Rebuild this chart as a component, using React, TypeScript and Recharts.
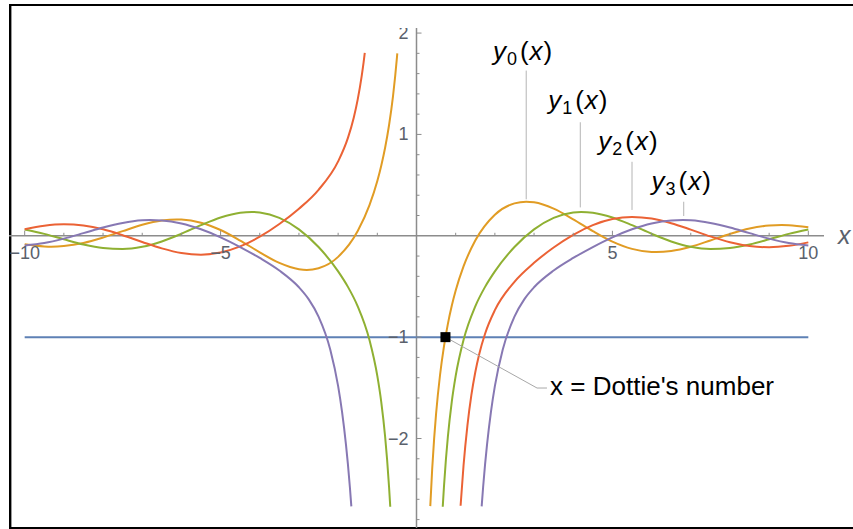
import React from "react"
import {
  ComposedChart, Line, Scatter, XAxis, YAxis, ReferenceLine, ReferenceDot,
} from "recharts"

// spherical Bessel functions of the second kind
const BLUE_X = [-10, 10]
const BLUE_Y = [-1, -1]

const Y0_LEFT_X = [-10, -9.5, -9.32, -9, -8.5, -8, -7.5, -7, -6.5, -6.12, -6, -5.5, -5, -4.5, -4, -3.5, -3, -2.8, -2.5, -2, -1.5, -1.2, -1, -0.9, -0.8, -0.7, -0.6, -0.5, -0.49]
const Y0_LEFT_Y = [-0.084, -0.105, -0.107, -0.101, -0.071, -0.018, 0.046, 0.108, 0.150, 0.161, 0.160, 0.129, 0.057, -0.047, -0.163, -0.268, -0.330, -0.337, -0.320, -0.208, 0.047, 0.302, 0.540, 0.691, 0.871, 1.093, 1.376, 1.755, 1.80]
const Y0_RIGHT_X = [0.352, 0.4, 0.45, 0.5, 0.6, 0.7, 0.8, 0.9, 1, 1.2, 1.5, 2, 2.5, 2.8, 3, 3.5, 4, 4.5, 5, 5.5, 6, 6.12, 6.5, 7, 7.5, 8, 8.5, 9, 9.32, 9.5, 10]
const Y0_RIGHT_Y = [-2.667, -2.303, -2.001, -1.755, -1.376, -1.093, -0.871, -0.691, -0.540, -0.302, -0.047, 0.208, 0.320, 0.337, 0.330, 0.268, 0.163, 0.047, -0.057, -0.129, -0.160, -0.161, -0.150, -0.108, -0.046, 0.018, 0.071, 0.101, 0.107, 0.105, 0.084]

const Y1_LEFT_X = [-10, -9.5, -9, -8.5, -8, -7.5, -7, -6.5, -6, -5.5, -5, -4.5, -4.2, -4, -3.5, -3, -2.5, -2, -1.75, -1.5, -1.2, -1, -0.9, -0.8, -0.75, -0.7, -0.67]
const Y1_LEFT_Y = [0.063, 0.019, -0.035, -0.086, -0.121, -0.131, -0.109, -0.056, 0.020, 0.105, 0.181, 0.228, 0.235, 0.230, 0.177, 0.063, -0.111, -0.351, -0.504, -0.696, -1.028, -1.382, -1.638, -1.985, -2.210, -2.481, -2.673]
const Y1_RIGHT_X = [0.67, 0.7, 0.75, 0.8, 0.9, 1, 1.2, 1.5, 1.75, 2, 2.5, 3, 3.5, 4, 4.2, 4.5, 5, 5.5, 6, 6.5, 7, 7.5, 8, 8.5, 9, 9.5, 10]
const Y1_RIGHT_Y = [-2.673, -2.481, -2.210, -1.985, -1.638, -1.382, -1.028, -0.696, -0.504, -0.351, -0.111, 0.063, 0.177, 0.230, 0.235, 0.228, 0.181, 0.105, 0.020, -0.056, -0.109, -0.131, -0.121, -0.086, -0.035, 0.019, 0.063]

const Y2_LEFT_X = [-10, -9.5, -9, -8.5, -8, -7.5, -7, -6.5, -6, -5.5, -5, -4.5, -4, -3.5, -3, -2.5, -2, -1.75, -1.6, -1.5, -1.4, -1.35, -1.32]
const Y2_LEFT_Y = [0.065, 0.099, 0.113, 0.101, 0.064, 0.006, -0.061, -0.124, -0.170, -0.186, -0.165, -0.105, -0.009, 0.116, 0.267, 0.454, 0.734, 0.966, 1.168, 1.346, 1.573, 1.711, 1.805]
const Y2_RIGHT_X = [1.125, 1.2, 1.3, 1.4, 1.5, 1.6, 1.75, 2, 2.5, 3, 3.5, 4, 4.5, 5, 5.5, 6, 6.5, 7, 7.5, 8, 8.5, 9, 9.5, 10]
const Y2_RIGHT_Y = [-2.664, -2.269, -1.870, -1.573, -1.346, -1.168, -0.966, -0.734, -0.454, -0.267, -0.116, 0.009, 0.105, 0.165, 0.186, 0.170, 0.124, 0.061, -0.006, -0.064, -0.101, -0.113, -0.099, -0.065]

const Y3_LEFT_X = [-10, -9.5, -9, -8.5, -8, -7.5, -7, -6.8, -6.5, -6, -5.5, -5, -4.5, -4, -3.5, -3, -2.75, -2.5, -2.2, -2, -1.9, -1.8, -1.75, -1.7, -1.663]
const Y3_LEFT_Y = [-0.095, -0.071, -0.028, 0.026, 0.082, 0.127, 0.153, 0.156, 0.152, 0.122, 0.064, -0.015, -0.111, -0.219, -0.343, -0.508, -0.627, -0.797, -1.124, -1.484, -1.737, -2.060, -2.256, -2.481, -2.67]
const Y3_RIGHT_X = [1.663, 1.7, 1.75, 1.8, 1.9, 2, 2.2, 2.5, 2.75, 3, 3.5, 4, 4.5, 5, 5.5, 6, 6.5, 6.8, 7, 7.5, 8, 8.5, 9, 9.5, 10]
const Y3_RIGHT_Y = [-2.67, -2.481, -2.256, -2.060, -1.737, -1.484, -1.124, -0.797, -0.627, -0.508, -0.343, -0.219, -0.111, -0.015, 0.064, 0.122, 0.152, 0.156, 0.153, 0.127, 0.082, 0.026, -0.028, -0.071, -0.095]

const DOTTIE = 0.739

const X_MAJOR = [-10, -5, 5, 10]
const X_MAJOR_LABELS = ["\u221210", "\u22125", "5", "10"]
const X_MINOR = [-9, -8, -7, -6, -4, -3, -2, -1, 1, 2, 3, 4, 6, 7, 8, 9]
const Y_MAJOR = [-2, -1, 1, 2]
const Y_MAJOR_LABELS = ["\u22122", "\u22121", "1", "2"]
const Y_MINOR = [-2.8, -2.6, -2.4, -2.2, -1.8, -1.6, -1.4, -1.2, -0.8, -0.6, -0.4, -0.2, 0.2, 0.4, 0.6, 0.8, 1.2, 1.4, 1.6, 1.8]

const COLORS = ["#5E81B5", "#E19C24", "#8FB032", "#EB6235", "#8778B3"]
const FONT = "'Liberation Sans', Arial, sans-serif"
const TICK_COLOR = "#5a616c"
const AXIS_COLOR = "#8c8c8c"

const pts = (xs: number[], ys: number[]) => xs.map((x, i) => ({ x, y: ys[i] }))

const xMajorData = X_MAJOR.map((x, i) => ({ x, y: 0, label: X_MAJOR_LABELS[i] }))
const xMinorData = X_MINOR.map((x) => ({ x, y: 0 }))
const yMajorData = Y_MAJOR.map((y, i) => ({ x: 0, y, label: Y_MAJOR_LABELS[i] }))
const yMinorData = Y_MINOR.map((y) => ({ x: 0, y }))

const SERIES = [
  { key: "blue", color: COLORS[0], data: pts(BLUE_X, BLUE_Y) },
  { key: "y0l", color: COLORS[1], data: pts(Y0_LEFT_X, Y0_LEFT_Y) },
  { key: "y0r", color: COLORS[1], data: pts(Y0_RIGHT_X, Y0_RIGHT_Y) },
  { key: "y1l", color: COLORS[2], data: pts(Y1_LEFT_X, Y1_LEFT_Y) },
  { key: "y1r", color: COLORS[2], data: pts(Y1_RIGHT_X, Y1_RIGHT_Y) },
  { key: "y2l", color: COLORS[3], data: pts(Y2_LEFT_X, Y2_LEFT_Y) },
  { key: "y2r", color: COLORS[3], data: pts(Y2_RIGHT_X, Y2_RIGHT_Y) },
  { key: "y3l", color: COLORS[4], data: pts(Y3_LEFT_X, Y3_LEFT_Y) },
  { key: "y3r", color: COLORS[4], data: pts(Y3_RIGHT_X, Y3_RIGHT_Y) },
]

// label anchor (left, baseline) and leader line for each curve
const LABELS = [
  { n: "0", at: { x: 1.95, y: 1.73 }, lead: [{ x: 2.8, y: 1.63 }, { x: 2.8, y: 0.36 }] },
  { n: "1", at: { x: 3.36, y: 1.25 }, lead: [{ x: 4.18, y: 1.12 }, { x: 4.18, y: 0.28 }] },
  { n: "2", at: { x: 4.64, y: 0.85 }, lead: [{ x: 5.5, y: 0.73 }, { x: 5.5, y: 0.255 }] },
  { n: "3", at: { x: 6.0, y: 0.447 }, lead: [{ x: 6.82, y: 0.336 }, { x: 6.82, y: 0.195 }] },
]

function CurveLabel({ cx, cy, n }: { cx: number; cy: number; n: string }) {
  return (
    <text x={cx} y={cy} fontFamily={FONT} fontSize={26} fill="#000">
      <tspan fontStyle="italic">y</tspan>
      <tspan fontSize={18} dy={5} dx={1}>{n}</tspan>
      <tspan dy={-5} dx={3}>(</tspan>
      <tspan fontStyle="italic" dx={1}>x</tspan>
      <tspan dx={1}>)</tspan>
    </text>
  )
}

export default function App() {
  return (
    <div style={{ position: "absolute", left: 0, top: 0, width: 853, height: 529, background: "#fff", overflow: "hidden" }}>
      <div
        style={{
          position: "absolute", left: 9, top: 4, width: 860, height: 525, boxSizing: "border-box",
          borderLeft: "2px solid #000", borderTop: "2px solid #000", borderBottom: "2px solid #000",
          boxShadow: "inset 1px 0 0 #999",
        }}
      />
      <div style={{ position: "absolute", left: 0, top: 0 }}>
        <ComposedChart width={853} height={529} margin={{ top: 28, right: 29, bottom: 1, left: 9 }}>
          <XAxis type="number" dataKey="x" domain={[-10.4, 10.4]} hide allowDataOverflow />
          <YAxis type="number" dataKey="y" domain={[-2.883, 2.05]} hide allowDataOverflow />

          {/* axes through the origin */}
          <ReferenceLine y={0} stroke={AXIS_COLOR} strokeWidth={1.5} />
          <ReferenceLine x={0} stroke={AXIS_COLOR} strokeWidth={1.5} />
          <Scatter
            data={xMajorData} dataKey="y" isAnimationActive={false}
            shape={(p: any) => (
              <g>
                <line x1={p.cx} y1={p.cy} x2={p.cx} y2={p.cy - 5} stroke={AXIS_COLOR} strokeWidth={1} />
                <text x={p.cx} y={p.cy + 23} textAnchor="middle" fontFamily={FONT} fontSize={18} fill={TICK_COLOR}>
                  {p.payload.label}
                </text>
              </g>
            )}
          />
          <Scatter
            data={xMinorData} dataKey="y" isAnimationActive={false}
            shape={(p: any) => <line x1={p.cx} y1={p.cy} x2={p.cx} y2={p.cy - 3} stroke={AXIS_COLOR} strokeWidth={1} />}
          />
          <Scatter
            data={yMajorData} dataKey="y" isAnimationActive={false}
            shape={(p: any) => (
              <g>
                <line x1={p.cx} y1={p.cy} x2={p.cx + 5} y2={p.cy} stroke={AXIS_COLOR} strokeWidth={1} />
                <text x={p.cx - 8} y={p.cy + 6} textAnchor="end" fontFamily={FONT} fontSize={18} fill={TICK_COLOR}>
                  {p.payload.label}
                </text>
              </g>
            )}
          />
          <Scatter
            data={yMinorData} dataKey="y" isAnimationActive={false}
            shape={(p: any) => <line x1={p.cx} y1={p.cy} x2={p.cx + 3} y2={p.cy} stroke={AXIS_COLOR} strokeWidth={1} />}
          />
          <ReferenceDot
            x={10.4} y={0} r={1} ifOverflow="visible"
            shape={(p: any) => (
              <text x={p.cx + 14} y={p.cy + 8} fontFamily={FONT} fontSize={25} fontStyle="italic" fill={TICK_COLOR}>x</text>
            )}
          />

          {SERIES.map((s) => (
            <Line
              key={s.key} data={s.data} dataKey="y" type="monotone" stroke={s.color}
              strokeWidth={2} dot={false} activeDot={false} isAnimationActive={false}
            />
          ))}

          {LABELS.map((l) => (
            <ReferenceLine key={"lead" + l.n} segment={l.lead} stroke="#b4b4b4" strokeWidth={1} />
          ))}
          {LABELS.map((l) => (
            <ReferenceDot
              key={"lab" + l.n} x={l.at.x} y={l.at.y} r={1}
              shape={(p: any) => <CurveLabel cx={p.cx} cy={p.cy} n={l.n} />}
            />
          ))}

          {/* Dottie's number */}
          <ReferenceLine segment={[{ x: DOTTIE, y: -1 }, { x: 3.076, y: -1.502 }]} stroke="#a8a8a8" strokeWidth={1} />
          <ReferenceLine segment={[{ x: 3.076, y: -1.502 }, { x: 3.33, y: -1.502 }]} stroke="#a8a8a8" strokeWidth={1} />
          <ReferenceDot
            x={DOTTIE} y={-1} r={5}
            shape={(p: any) => <rect x={p.cx - 5} y={p.cy - 5} width={10} height={10} fill="#000" />}
          />
          <ReferenceDot
            x={3.41} y={-1.571} r={1}
            shape={(p: any) => (
              <text x={p.cx} y={p.cy} fontFamily={FONT} fontSize={26} fill="#000">x = Dottie's number</text>
            )}
          />
        </ComposedChart>
      </div>
    </div>
  )
}
